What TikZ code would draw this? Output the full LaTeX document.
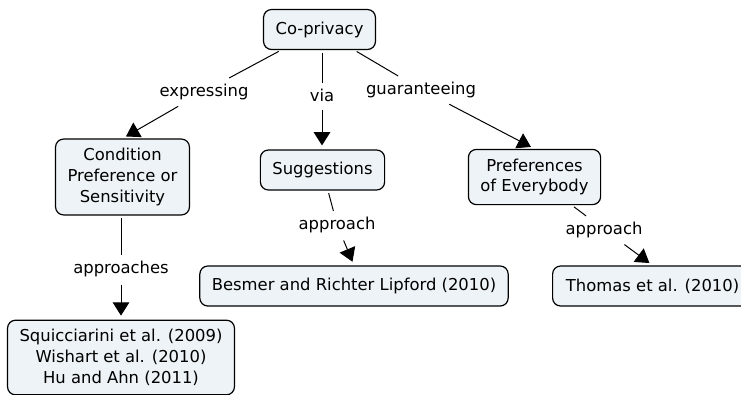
\documentclass[tikz,border=0pt]{standalone}
\usepackage{fontspec}
\setmainfont{DejaVu Sans}
\usepackage{tikz}
\usetikzlibrary{arrows.meta}
\definecolor{boxfill}{RGB}{237,243,246}

\begin{document}
\begin{tikzpicture}[x=0.75pt,y=0.75pt,yscale=-1,xscale=1,
	concept/.style={draw, line width=0.9pt, rounded corners=6pt, fill=boxfill, align=center, inner xsep=9pt, inner ysep=7pt, minimum height=30pt, font=\fontsize{12.3}{15.5}\selectfont},
	linkword/.style={inner sep=4pt, font=\fontsize{12.3}{15.5}\selectfont},
	link/.style={line width=0.75pt, shorten <=2pt},
	linkarrow/.style={link, -{Triangle[length=10pt,width=12.5pt]}, shorten >=3pt}]
	%set diagram size to 741 x 394
	\useasboundingbox (0,0) rectangle (741,394);
	\clip (0,0) rectangle (741,394);
	
	% Concepts
	\node [concept] (coprivacy) at (319.5,29.5) {Co-privacy};
	\node [concept] (condition) at (122.5,177) {Condition\\Preference or\\Sensitivity};
	\node [concept] (suggestions) at (322.5,170) {Suggestions};
	\node [concept] (everybody) at (534.5,177) {Preferences\\of Everybody};
	\node [concept] (squicciarini) at (121,357.5) {Squicciarini et al. (2009)\\Wishart et al. (2010)\\Hu and Ahn (2011)};
	\node [concept] (besmer) at (354,286) {Besmer and Richter Lipford (2010)};
	\node [concept, minimum width=150pt, anchor=west] (thomas) at (552,286) {Thomas et al. (2010)};
	
	% Linking words
	\node [linkword, anchor=base] (expressing) at (204,96) {expressing};
	\node [linkword, anchor=base] (via) at (322,101) {via};
	\node [linkword, anchor=base] (guaranteeing) at (421,94) {guaranteeing};
	\node [linkword, anchor=base] (approaches) at (121,273) {approaches};
	\node [linkword, anchor=base] (approachA) at (337,229) {approach};
	\node [linkword, anchor=base] (approachB) at (604,234) {approach};
	
	% Links
	\draw [link] (coprivacy) -- (expressing);
	\draw [linkarrow] (expressing) -- (condition.north);
	\draw [link] (coprivacy.south -| via) -- (via);
	\draw [linkarrow] (via) -- (suggestions.north -| via);
	\draw [link] (coprivacy) -- (guaranteeing);
	\draw [linkarrow] (guaranteeing) -- (everybody.north);
	\draw [link] (condition.south -| approaches) -- (approaches);
	\draw [linkarrow] (approaches) -- (squicciarini.north -| approaches);
	\draw [link] (suggestions) -- (approachA);
	\draw [linkarrow] (approachA) -- (besmer.north);
	\draw [link] (everybody) -- (approachB);
	\draw [linkarrow] (approachB) -- (thomas.north);
	
\end{tikzpicture}
\end{document}
